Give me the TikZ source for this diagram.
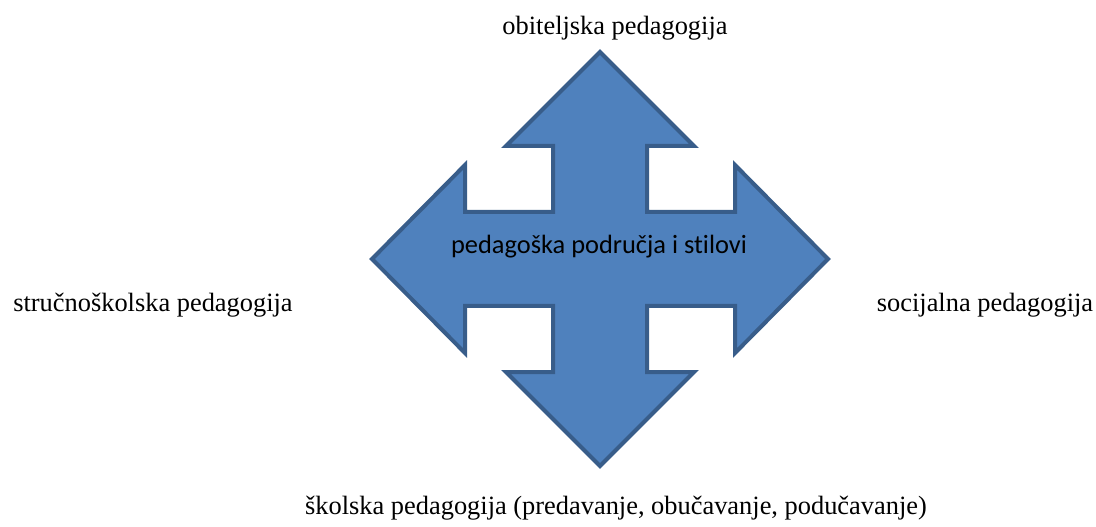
\documentclass[tikz,border=0pt]{standalone}
\usepackage{fontspec}
\setmainfont{Liberation Serif}
\newfontfamily\bodyfont[Ligatures=NoCommon]{Carlito}
\usepackage{tikz}
\usetikzlibrary{positioning}
\usepackage{xcolor}
\definecolor{crossfill}{HTML}{4F81BD}
\definecolor{crossline}{HTML}{385D8A}
\tikzset{
    fieldtext/.style={
        inner sep=0pt,
        font=\fontsize{19.8}{24}\selectfont
    },
    hubtext/.style={
        inner sep=0pt,
        font=\bodyfont\fontsize{19.8}{24}\selectfont
    },
    crossarrow/.style={
        draw=crossline,
        fill=crossfill,
        line width=3pt,
        line join=miter
    }
}

\begin{document}
\begin{tikzpicture}[x=0.75pt,y=-0.75pt]
    \useasboundingbox (0,0) rectangle (1096,527);

    % Four-way arrow
    \begin{scope}[shift={(600,259)}]
        \draw[crossarrow] (0,-207) -- (94,-113) -- (47,-113) -- (47,-47)
            -- (135,-47) -- (135,-94) -- (228,0) -- (135,94) -- (135,47)
            -- (47,47) -- (47,113) -- (94,113) -- (0,207) -- (-94,113)
            -- (-47,113) -- (-47,47) -- (-135,47) -- (-135,94) -- (-228,0)
            -- (-135,-94) -- (-135,-47) -- (-47,-47) -- (-47,-113)
            -- (-94,-113) -- cycle;
    \end{scope}

    % Centre text
    \node[hubtext] (hub) at (599,247) {pedagoška područja i stilovi};

    % Fields
    \node[fieldtext] (family) at (615,28) {obiteljska pedagogija};
    \node[fieldtext] (vocational) at (153,305) {stručnoškolska pedagogija};
    \node[fieldtext] (social) at (985,305) {socijalna pedagogija};
    \node[fieldtext] (school) at (616,508) {školska pedagogija (predavanje, obučavanje, podučavanje)};
\end{tikzpicture}
\end{document}
